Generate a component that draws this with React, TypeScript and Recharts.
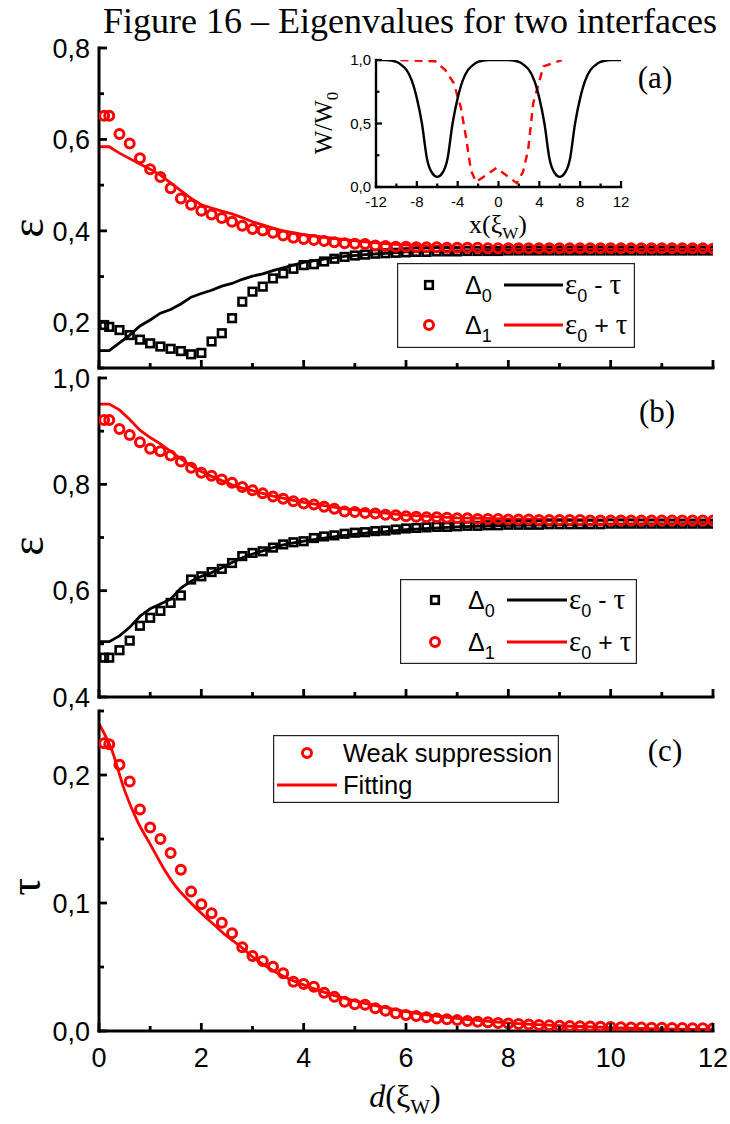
import React from 'react';
import { ComposedChart, LineChart, Line, Scatter, XAxis, YAxis, Legend } from 'recharts';

const SANS = '"Liberation Sans", Arimo, Arial, sans-serif';
const SERIF = '"Liberation Serif", Tinos, "Times New Roman", serif';
const RED = '#ff0000';

// ---------- data ----------
// distance d (xi_w) of the computed eigenvalues
const dValues = [
  0.1, 0.2, 0.4, 0.6, 0.8, 1.0, 1.2, 1.4, 1.6, 1.8,
  2.0, 2.2, 2.4, 2.6, 2.8, 3.0, 3.2, 3.4, 3.6, 3.8,
  4.0, 4.2, 4.4, 4.6, 4.8, 5.0, 5.2, 5.4, 5.6, 5.8,
  6.0, 6.2, 6.4, 6.6, 6.8, 7.0, 7.2, 7.4, 7.6, 7.8,
  8.0, 8.2, 8.4, 8.6, 8.8, 9.0, 9.2, 9.4, 9.6, 9.8,
  10.0, 10.2, 10.4, 10.6, 10.8, 11.0, 11.2, 11.4, 11.6, 11.8,
  12.0,
];
// panel (a)
const aDelta0 = [
  0.194, 0.19, 0.183, 0.172, 0.162, 0.154, 0.147, 0.142, 0.137, 0.130,
  0.133, 0.158, 0.176, 0.209, 0.245, 0.267, 0.278, 0.296, 0.307, 0.317,
  0.325, 0.327, 0.333, 0.339, 0.343, 0.346, 0.348, 0.350, 0.351, 0.352,
  0.353, 0.354, 0.354, 0.355, 0.355, 0.355, 0.356, 0.356, 0.356, 0.356,
  0.357, 0.357, 0.357, 0.357, 0.357, 0.357, 0.357, 0.357, 0.357, 0.357,
  0.357, 0.357, 0.357, 0.357, 0.357, 0.357, 0.357, 0.357, 0.357, 0.357,
  0.357,
];
const aDelta1 = [
  0.652, 0.652, 0.612, 0.591, 0.559, 0.535, 0.518, 0.493, 0.471, 0.457,
  0.444, 0.436, 0.428, 0.420, 0.411, 0.404, 0.401, 0.396, 0.390, 0.385,
  0.382, 0.380, 0.378, 0.375, 0.373, 0.372, 0.371, 0.368, 0.367, 0.365,
  0.365, 0.364, 0.364, 0.364, 0.363, 0.363, 0.363, 0.363, 0.362, 0.362,
  0.362, 0.362, 0.362, 0.362, 0.362, 0.362, 0.362, 0.362, 0.362, 0.362,
  0.362, 0.362, 0.362, 0.362, 0.362, 0.362, 0.362, 0.362, 0.362, 0.362,
  0.361,
];
const lineD = [
  0, 0.2, 0.4, 0.6, 0.8, 1.0, 1.2, 1.4, 1.6, 1.8,
  2.0, 2.2, 2.4, 2.6, 2.8, 3.0, 3.2, 3.4, 3.6, 3.8,
  4.0, 4.4, 4.8, 5.2, 5.6, 6.0, 7, 8, 10, 12,
];
const aEpsMinus = [
  0.138, 0.138, 0.155, 0.172, 0.192, 0.205, 0.220, 0.228, 0.240, 0.255,
  0.263, 0.270, 0.279, 0.285, 0.294, 0.301, 0.306, 0.313, 0.319, 0.325,
  0.331, 0.338, 0.344, 0.348, 0.351, 0.354, 0.356, 0.357, 0.358, 0.358,
];
const aEpsPlus = [
  0.584, 0.584, 0.570, 0.558, 0.546, 0.535, 0.522, 0.505, 0.488, 0.471,
  0.457, 0.450, 0.443, 0.437, 0.429, 0.420, 0.413, 0.406, 0.400, 0.396,
  0.392, 0.386, 0.381, 0.376, 0.372, 0.369, 0.365, 0.363, 0.362, 0.361,
];
// panel (b)
const bDelta0 = [
  0.474, 0.474, 0.488, 0.506, 0.534, 0.549, 0.562, 0.577, 0.591, 0.621,
  0.627, 0.635, 0.641, 0.652, 0.665, 0.671, 0.674, 0.681, 0.687, 0.691,
  0.693, 0.699, 0.702, 0.704, 0.707, 0.709, 0.710, 0.712, 0.713, 0.715,
  0.717, 0.718, 0.719, 0.720, 0.720, 0.721, 0.722, 0.722, 0.723, 0.723,
  0.724, 0.724, 0.724, 0.724, 0.725, 0.725, 0.725, 0.725, 0.725, 0.725,
  0.726, 0.726, 0.726, 0.726, 0.726, 0.726, 0.726, 0.726, 0.726, 0.726,
  0.726,
];
const bDelta1 = [
  0.921, 0.921, 0.904, 0.893, 0.879, 0.867, 0.862, 0.854, 0.843, 0.831,
  0.822, 0.816, 0.809, 0.803, 0.795, 0.789, 0.783, 0.777, 0.773, 0.768,
  0.764, 0.762, 0.758, 0.754, 0.749, 0.748, 0.746, 0.745, 0.743, 0.742,
  0.740, 0.739, 0.738, 0.738, 0.737, 0.736, 0.736, 0.735, 0.735, 0.735,
  0.734, 0.734, 0.734, 0.733, 0.733, 0.733, 0.733, 0.733, 0.732, 0.732,
  0.732, 0.732, 0.732, 0.732, 0.732, 0.732, 0.732, 0.732, 0.732, 0.732,
  0.732,
];
const bEpsMinus = [
  0.504, 0.504, 0.515, 0.531, 0.552, 0.566, 0.575, 0.584, 0.605, 0.618,
  0.627, 0.634, 0.643, 0.653, 0.662, 0.669, 0.675, 0.681, 0.686, 0.690,
  0.693, 0.699, 0.704, 0.708, 0.711, 0.715, 0.720, 0.723, 0.725, 0.726,
];
const bEpsPlus = [
  0.951, 0.951, 0.940, 0.922, 0.902, 0.888, 0.876, 0.862, 0.848, 0.835,
  0.824, 0.815, 0.807, 0.799, 0.793, 0.788, 0.783, 0.778, 0.774, 0.770,
  0.766, 0.760, 0.754, 0.750, 0.746, 0.742, 0.737, 0.735, 0.733, 0.732,
];
// panel (c)
const cTau = [
  0.2248, 0.224, 0.208, 0.195, 0.173, 0.159, 0.150, 0.139, 0.126, 0.109,
  0.099, 0.092, 0.0846, 0.0763, 0.0654, 0.0586, 0.0547, 0.0502, 0.0451, 0.0385,
  0.0367, 0.0346, 0.0299, 0.0268, 0.0229, 0.0209, 0.0205, 0.0177, 0.0159, 0.0138,
  0.0125, 0.0118, 0.0108, 0.0098, 0.0092, 0.0085, 0.0079, 0.0072, 0.0068, 0.0062,
  0.0058, 0.0054, 0.0050, 0.0047, 0.0044, 0.0041, 0.0039, 0.0037, 0.0035, 0.0033,
  0.0031, 0.0030, 0.0028, 0.0027, 0.0026, 0.0025, 0.0024, 0.0023, 0.0022, 0.0022,
  0.0021,
];
const fitD = [0, 0.25, 0.5, 0.75, 1, 1.25, 1.5, 1.75, 2, 2.25, 2.5, 2.75, 3, 3.25, 3.5, 4, 4.5, 5, 5.5, 6, 7, 8, 9, 10, 11, 12];
const fitTau = [
  0.240, 0.2195, 0.188, 0.164, 0.146, 0.128, 0.113, 0.102, 0.092, 0.083,
  0.074, 0.0665, 0.058, 0.051, 0.045, 0.036, 0.029, 0.0235, 0.019, 0.0151,
  0.0098, 0.0063, 0.0041, 0.0027, 0.0017, 0.0011,
];
// inset: W/W0 profile
const insetX = [
  -12, -11, -10, -9.5, -9, -8.5, -8, -7.5, -7, -6.5, -6, -5.5, -5, -4.5, -4, -3.5, -3, -2.5, -2,
  -1, 0, 1, 2, 2.5, 3, 3.5, 4, 4.5, 5, 5.5, 6, 6.5, 7, 7.5, 8, 8.5, 9, 9.5, 10, 11, 12,
];
const insetW = [
  1, 1, 0.985, 0.96, 0.92, 0.84, 0.7, 0.5, 0.22, 0.11, 0.08, 0.11, 0.22, 0.5, 0.7, 0.84, 0.92, 0.96, 0.985,
  1, 1, 1, 0.985, 0.96, 0.92, 0.84, 0.7, 0.5, 0.22, 0.11, 0.08, 0.11, 0.22, 0.5, 0.7, 0.84, 0.92, 0.96, 0.985, 1, 1,
];
const insetRedX = [-9.6, -6.2, -5.2, -4.4, -3.7, -3.2, -2.7, -2.2, -0.2, 1.8, 2.4, 2.9, 3.4, 4.4, 6.2];
const insetRedW = [1, 0.99, 0.92, 0.82, 0.63, 0.4, 0.13, 0.04, 0.15, 0.03, 0.12, 0.29, 0.66, 0.95, 1];

// tick positions / labels
const dTicks = [0, 1, 2, 3, 4, 5, 6, 7, 8, 9, 10, 11, 12];
const dMajors = [0, 2, 4, 6, 8, 10, 12];
const aYTicks = [0.1, 0.2, 0.3, 0.4, 0.5, 0.6, 0.7, 0.8];
const aYMajors = [0.2, 0.4, 0.6, 0.8];
const bYTicks = [0.4, 0.5, 0.6, 0.7, 0.8, 0.9, 1.0];
const bYMajors = [0.4, 0.6, 0.8, 1.0];
const cYTicks = [0, 0.05, 0.1, 0.15, 0.2, 0.25];
const cYMajors = [0, 0.1, 0.2];
const insetXTicks = [-12, -10, -8, -6, -4, -2, 0, 2, 4, 6, 8, 10, 12];
const insetXMajors = [-12, -8, -4, 0, 4, 8, 12];
const insetYTicks = [0, 0.25, 0.5, 0.75, 1];
const insetYMajors = [0, 0.5, 1];

// ---------- helpers ----------
const pts = (xs: number[], ys: number[]) => xs.map((x, i) => ({ x, y: ys[i] }));
const comma = (v: number) => v.toFixed(1).replace('.', ',');
const intLabel = (v: number) => String(Math.round(v));
const isIn = (arr: number[], v: number) => arr.some((m) => Math.abs(m - v) < 1e-6);

type Side = 'bottom' | 'top' | 'left' | 'right';
interface TickOpts {
  majors: number[];
  majorLen: number;
  minorLen: number;
  sw: number;
  label?: (v: number) => string;
  fontSize?: number;
  offset?: number;
}

const makeTick = (side: Side, o: TickOpts) => (props: any) => {
  const { x, y, payload } = props;
  const v = Number(payload.value);
  const major = isIn(o.majors, v);
  const len = major ? o.majorLen : o.minorLen;
  const x2 = side === 'left' ? x + len : side === 'right' ? x - len : x;
  const y2 = side === 'bottom' ? y - len : side === 'top' ? y + len : y;
  let lab: any = null;
  if (o.label && major) {
    if (side === 'bottom') {
      lab = (
        <text x={x} y={y + (o.offset || 0)} textAnchor="middle" fontFamily={SANS} fontSize={o.fontSize} fill="#000">
          {o.label(v)}
        </text>
      );
    } else if (side === 'left') {
      lab = (
        <text x={x - (o.offset || 0)} y={y} dy="0.36em" textAnchor="end" fontFamily={SANS} fontSize={o.fontSize} fill="#000">
          {o.label(v)}
        </text>
      );
    }
  }
  return (
    <g>
      <line x1={x} y1={y} x2={x2} y2={y2} stroke="#000" strokeWidth={o.sw} />
      {lab}
    </g>
  );
};

const AXIS_LINE = { stroke: '#000', strokeWidth: 3, strokeLinecap: 'square' as const };
const INSET_AXIS_LINE = { stroke: '#000', strokeWidth: 2.4, strokeLinecap: 'square' as const };

const frameAxes = (
  yDomain: [number, number],
  yTicks: number[],
  yMajors: number[],
  showXLabels: boolean,
  bottomH: number,
) => {
  const tickBase = { majorLen: 8, minorLen: 5, sw: 2.8 };
  return [
    <XAxis
      key="xb"
      xAxisId="b"
      orientation="bottom"
      type="number"
      dataKey="x"
      domain={[0, 12]}
      ticks={dTicks}
      interval={0}
      allowDataOverflow
      height={bottomH}
      axisLine={AXIS_LINE}
      tickLine={false}
      tickSize={0}
      tickMargin={0}
      tick={makeTick('bottom', {
        ...tickBase,
        majors: dMajors,
        label: showXLabels ? intLabel : undefined,
        fontSize: 27,
        offset: 36,
      })}
    />,
    <XAxis
      key="xt"
      xAxisId="t"
      orientation="top"
      type="number"
      dataKey="x"
      domain={[0, 12]}
      ticks={dTicks}
      interval={0}
      allowDataOverflow
      height={0}
      axisLine={AXIS_LINE}
      tickLine={false}
      tickSize={0}
      tickMargin={0}
      tick={makeTick('top', { ...tickBase, majors: dMajors })}
    />,
    <YAxis
      key="yl"
      yAxisId="l"
      orientation="left"
      type="number"
      dataKey="y"
      domain={yDomain}
      ticks={yTicks}
      interval={0}
      allowDataOverflow
      width={99}
      axisLine={AXIS_LINE}
      tickLine={false}
      tickSize={0}
      tickMargin={0}
      tick={makeTick('left', { ...tickBase, majors: yMajors, label: comma, fontSize: 27, offset: 9 })}
    />,
    <YAxis
      key="yr"
      yAxisId="r"
      orientation="right"
      type="number"
      dataKey="y"
      domain={yDomain}
      ticks={yTicks}
      interval={0}
      allowDataOverflow
      width={0}
      axisLine={AXIS_LINE}
      tickLine={false}
      tickSize={0}
      tickMargin={0}
      tick={makeTick('right', { ...tickBase, majors: yMajors })}
    />,
  ];
};

const circleShape = (props: any) => (
  <circle cx={props.cx} cy={props.cy} r={4.5} fill="none" stroke={RED} strokeWidth={3} />
);
const squareShape = (props: any) => (
  <rect x={props.cx - 3.8} y={props.cy - 3.8} width={7.6} height={7.6} fill="none" stroke="#000" strokeWidth={2.6} />
);

const sub = (t: string) => (
  <tspan fontSize={18} dy={8} fontFamily={SANS}>
    {t}
  </tspan>
);

const EpsLegend = ({ w, h, r1, r2, mx, tx, lx1, lx2, ex }: any) => (
  <svg width={w} height={h} style={{ display: 'block' }}>
    <rect x={0.6} y={0.6} width={w - 1.2} height={h - 1.2} fill="#fff" stroke="#222" strokeWidth={1.2} />
    <rect x={mx - 3.8} y={r1 - 3.8} width={7.6} height={7.6} fill="none" stroke="#000" strokeWidth={2.6} />
    <text x={tx} y={r1 + 9} fontFamily={SANS} fontSize={25} fill="#000">
      Δ{sub('0')}
    </text>
    <line x1={lx1} x2={lx2} y1={r1} y2={r1} stroke="#000" strokeWidth={2.8} />
    <text x={ex} y={r1 + 9} fontFamily={SERIF} fontSize={29} fill="#000">
      ε{sub('0')}
      <tspan dy={-8} fontFamily={SANS} fontSize={25}> - </tspan>
      <tspan fontFamily={SERIF} fontSize={29}>τ</tspan>
    </text>
    <circle cx={mx} cy={r2} r={4.5} fill="none" stroke={RED} strokeWidth={3} />
    <text x={tx} y={r2 + 9} fontFamily={SANS} fontSize={25} fill="#000">
      Δ{sub('1')}
    </text>
    <line x1={lx1} x2={lx2} y1={r2} y2={r2} stroke={RED} strokeWidth={2.8} />
    <text x={ex} y={r2 + 9} fontFamily={SERIF} fontSize={29} fill="#000">
      ε{sub('0')}
      <tspan dy={-8} fontFamily={SANS} fontSize={25}> + </tspan>
      <tspan fontFamily={SERIF} fontSize={29}>τ</tspan>
    </text>
  </svg>
);

const TauLegend = () => (
  <svg width={286} height={68} style={{ display: 'block' }}>
    <rect x={0.6} y={0.6} width={284.8} height={66.8} fill="#fff" stroke="#222" strokeWidth={1.2} />
    <circle cx={34} cy={18} r={4.5} fill="none" stroke={RED} strokeWidth={3} />
    <text x={70} y={27} fontFamily={SANS} fontSize={25.5} fill="#000">
      Weak suppression
    </text>
    <line x1={4} x2={64} y1={50} y2={50} stroke={RED} strokeWidth={2.8} />
    <text x={70} y={59} fontFamily={SANS} fontSize={25.5} fill="#000">
      Fitting
    </text>
  </svg>
);

const legendCommon = {
  layout: 'horizontal' as const,
  verticalAlign: 'middle' as const,
  align: 'center' as const,
};

const PanelA = () => (
  <div style={{ position: 'absolute', left: 0, top: 20 }}>
    <ComposedChart width={730} height={360} margin={{ top: 28, right: 17, bottom: 0, left: 0 }}>
      {frameAxes([0.1, 0.8], aYTicks, aYMajors, false, 12)}
      <Line xAxisId="b" yAxisId="l" data={pts(lineD, aEpsMinus)} dataKey="y" type="linear" stroke="#000" strokeWidth={2.8} dot={false} isAnimationActive={false} name="ε0 - τ" />
      <Line xAxisId="b" yAxisId="l" data={pts(lineD, aEpsPlus)} dataKey="y" type="linear" stroke={RED} strokeWidth={2.8} dot={false} isAnimationActive={false} name="ε0 + τ" />
      <Scatter xAxisId="b" yAxisId="l" data={pts(dValues, aDelta0)} dataKey="y" shape={squareShape} isAnimationActive={false} name="Δ0" />
      <Scatter xAxisId="b" yAxisId="l" data={pts(dValues, aDelta1)} dataKey="y" shape={circleShape} isAnimationActive={false} name="Δ1" />
      <Legend
        {...legendCommon}
        wrapperStyle={{ left: 397, top: 243, width: 238, height: 85 }}
        content={() => <EpsLegend w={238} h={85} r1={22} r2={62} mx={32} tx={68} lx1={107} lx2={166} ex={168} />}
      />
    </ComposedChart>
  </div>
);

const PanelB = () => (
  <div style={{ position: 'absolute', left: 0, top: 350 }}>
    <ComposedChart width={730} height={372} margin={{ top: 28, right: 17, bottom: 0, left: 0 }}>
      {frameAxes([0.4, 1.0], bYTicks, bYMajors, false, 25)}
      <Line xAxisId="b" yAxisId="l" data={pts(lineD, bEpsMinus)} dataKey="y" type="linear" stroke="#000" strokeWidth={2.8} dot={false} isAnimationActive={false} name="ε0 - τ" />
      <Line xAxisId="b" yAxisId="l" data={pts(lineD, bEpsPlus)} dataKey="y" type="linear" stroke={RED} strokeWidth={2.8} dot={false} isAnimationActive={false} name="ε0 + τ" />
      <Scatter xAxisId="b" yAxisId="l" data={pts(dValues, bDelta0)} dataKey="y" shape={squareShape} isAnimationActive={false} name="Δ0" />
      <Scatter xAxisId="b" yAxisId="l" data={pts(dValues, bDelta1)} dataKey="y" shape={circleShape} isAnimationActive={false} name="Δ1" />
      <Legend
        {...legendCommon}
        wrapperStyle={{ left: 400, top: 229, width: 237, height: 85 }}
        content={() => <EpsLegend w={237} h={85} r1={21} r2={63} mx={35} tx={68} lx1={107} lx2={167} ex={169} />}
      />
    </ComposedChart>
  </div>
);

const PanelC = () => (
  <div style={{ position: 'absolute', left: 0, top: 683 }}>
    <ComposedChart width={730} height={400} margin={{ top: 28, right: 17, bottom: 0, left: 0 }}>
      {frameAxes([0, 0.25], cYTicks, cYMajors, true, 52)}
      <Line xAxisId="b" yAxisId="l" data={pts(fitD, fitTau)} dataKey="y" type="monotone" stroke={RED} strokeWidth={2.8} dot={false} isAnimationActive={false} name="Fitting" />
      <Scatter xAxisId="b" yAxisId="l" data={pts(dValues, cTau)} dataKey="y" shape={circleShape} isAnimationActive={false} name="Weak suppression" />
      <Legend {...legendCommon} wrapperStyle={{ left: 273, top: 52, width: 286, height: 68 }} content={() => <TauLegend />} />
    </ComposedChart>
  </div>
);

const Inset = () => {
  const tb = { majorLen: 6, minorLen: 3.5, sw: 2.2 };
  return (
    <div style={{ position: 'absolute', left: 300, top: 40 }}>
      <LineChart width={340} height={200} margin={{ top: 20, right: 19, bottom: 0, left: 0 }}>
        <XAxis xAxisId="b" orientation="bottom" type="number" dataKey="x" domain={[-12, 12]} ticks={insetXTicks} interval={0} allowDataOverflow height={53} axisLine={INSET_AXIS_LINE} tickLine={false} tickSize={0} tickMargin={0}
          tick={makeTick('bottom', { ...tb, majors: insetXMajors, label: intLabel, fontSize: 15, offset: 20 })} />
        <XAxis xAxisId="t" orientation="top" type="number" dataKey="x" domain={[-12, 12]} ticks={insetXTicks} interval={0} allowDataOverflow height={0} axisLine={INSET_AXIS_LINE} tickLine={false} tickSize={0} tickMargin={0}
          tick={makeTick('top', { ...tb, majors: insetXMajors })} />
        <YAxis yAxisId="l" orientation="left" type="number" dataKey="y" domain={[0, 1]} ticks={insetYTicks} interval={0} allowDataOverflow width={76} axisLine={INSET_AXIS_LINE} tickLine={false} tickSize={0} tickMargin={0}
          tick={makeTick('left', { ...tb, majors: insetYMajors, label: comma, fontSize: 15, offset: 5 })} />
        <YAxis yAxisId="r" orientation="right" type="number" dataKey="y" domain={[0, 1]} ticks={insetYTicks} interval={0} allowDataOverflow width={0} axisLine={INSET_AXIS_LINE} tickLine={false} tickSize={0} tickMargin={0}
          tick={makeTick('right', { ...tb, majors: insetYMajors })} />
        <Line xAxisId="b" yAxisId="l" data={pts(insetRedX, insetRedW)} dataKey="y" type="linear" stroke={RED} strokeWidth={2.4} strokeDasharray="8 6" dot={false} isAnimationActive={false} />
        <Line xAxisId="b" yAxisId="l" data={pts(insetX, insetW)} dataKey="y" type="monotone" stroke="#000" strokeWidth={2.4} dot={false} isAnimationActive={false} />
      </LineChart>
    </div>
  );
};

const Overlay = () => (
  <svg width={730} height={1124} style={{ position: 'absolute', left: 0, top: 0, pointerEvents: 'none' }}>
    <text x={410} y={33} textAnchor="middle" fontFamily={SERIF} fontSize={36} fill="#000">
      Figure 16 – Eigenvalues for two interfaces
    </text>
    <text transform="translate(43,228) rotate(-90)" textAnchor="middle" fontFamily={SERIF} fontSize={46} fill="#000">ε</text>
    <text transform="translate(43,546) rotate(-90)" textAnchor="middle" fontFamily={SERIF} fontSize={46} fill="#000">ε</text>
    <text transform="translate(40,887) rotate(-90)" textAnchor="middle" fontFamily={SERIF} fontSize={44} fill="#000">τ</text>
    <text x={405} y={1107} textAnchor="middle" fontFamily={SERIF} fontSize={32} fill="#000">
      <tspan fontStyle="italic">d</tspan>(ξ<tspan fontSize={21} dy={7}>W</tspan><tspan dy={-7}>)</tspan>
    </text>
    <text x={655} y={88} textAnchor="middle" fontFamily={SERIF} fontSize={31} fill="#000">(a)</text>
    <text x={657} y={422} textAnchor="middle" fontFamily={SERIF} fontSize={31} fill="#000">(b)</text>
    <text x={665} y={761} textAnchor="middle" fontFamily={SERIF} fontSize={31} fill="#000">(c)</text>
    <text transform="translate(332,123) rotate(-90)" textAnchor="middle" fontFamily={SERIF} fontSize={25} fill="#000">
      W/W<tspan fontSize={17} dy={6}>0</tspan>
    </text>
    <text x={498} y={233} textAnchor="middle" fontFamily={SERIF} fontSize={26} fill="#000">
      x(ξ<tspan fontSize={17} dy={6}>W</tspan><tspan dy={-6}>)</tspan>
    </text>
  </svg>
);

export default function App() {
  return (
    <div style={{ position: 'absolute', left: 0, top: 0, width: 730, height: 1124, background: '#fff', overflow: 'hidden' }}>
      <PanelA />
      <PanelC />
      <PanelB />
      <Inset />
      <Overlay />
    </div>
  );
}
